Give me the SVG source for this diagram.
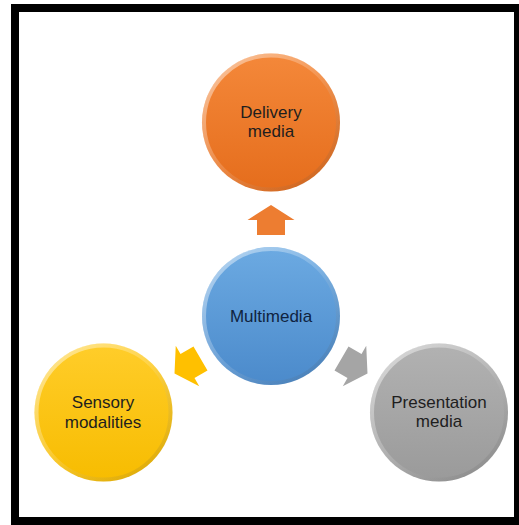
<svg xmlns="http://www.w3.org/2000/svg" width="519" height="525" viewBox="0 0 519 525">
<defs>
<linearGradient id="gO" x1="0" y1="0" x2="0" y2="1"><stop offset="0" stop-color="#F4883A"/><stop offset="1" stop-color="#E56D1C"/></linearGradient>
<linearGradient id="gB" x1="0" y1="0" x2="0" y2="1"><stop offset="0" stop-color="#6CAAE2"/><stop offset="1" stop-color="#4B8ACB"/></linearGradient>
<linearGradient id="gY" x1="0" y1="0" x2="0" y2="1"><stop offset="0" stop-color="#FFCD2A"/><stop offset="1" stop-color="#F7BC00"/></linearGradient>
<linearGradient id="gG" x1="0" y1="0" x2="0" y2="1"><stop offset="0" stop-color="#B2B2B2"/><stop offset="1" stop-color="#9A9A9A"/></linearGradient>
<linearGradient id="rim" x1="0" y1="0" x2="1" y2="1"><stop offset="0" stop-color="#FFFFFF" stop-opacity="0.55"/><stop offset="0.5" stop-color="#FFFFFF" stop-opacity="0.15"/><stop offset="1" stop-color="#000000" stop-opacity="0.12"/></linearGradient>
<path id="arr" d="M0,-15 L23.5,0 L14,0 L14,15 L-14,15 L-14,0 L-23.5,0 Z"/>
</defs>
<style>
.lbl{font-family:"Liberation Sans",Arial,sans-serif;font-size:17px;text-anchor:middle;fill:#1E1E1E}
.rim{fill:none;stroke:url(#rim);stroke-width:4}
</style>
<rect x="11" y="4" width="508" height="521" fill="#000"/>
<rect x="19" y="12" width="495" height="505" fill="#fff"/>
<g id="connectors">
<use href="#arr" transform="translate(271,220)" fill="#ED7D31"/>
<use href="#arr" transform="translate(187.5,366) rotate(-120)" fill="#FFC000"/>
<use href="#arr" transform="translate(354.5,366) rotate(120)" fill="#A5A5A5"/>
</g>
<g id="delivery">
<circle cx="271" cy="122.5" r="69" fill="url(#gO)"/>
<circle cx="271" cy="122.5" r="67" class="rim"/>
<text class="lbl" x="271" y="117.5">Delivery</text>
<text class="lbl" x="271" y="136.5">media</text>
</g>
<g id="multimedia">
<circle cx="271" cy="316" r="69" fill="url(#gB)"/>
<circle cx="271" cy="316" r="67" class="rim"/>
<text class="lbl" x="271" y="322" style="fill:#0F2340">Multimedia</text>
</g>
<g id="sensory">
<circle cx="103.5" cy="412.5" r="69" fill="url(#gY)"/>
<circle cx="103.5" cy="412.5" r="67" class="rim"/>
<text class="lbl" x="103" y="408">Sensory</text>
<text class="lbl" x="103" y="427.5">modalities</text>
</g>
<g id="presentation">
<circle cx="439" cy="412.5" r="69" fill="url(#gG)"/>
<circle cx="439" cy="412.5" r="67" class="rim"/>
<text class="lbl" x="439" y="407.5">Presentation</text>
<text class="lbl" x="439" y="427">media</text>
</g>
</svg>
